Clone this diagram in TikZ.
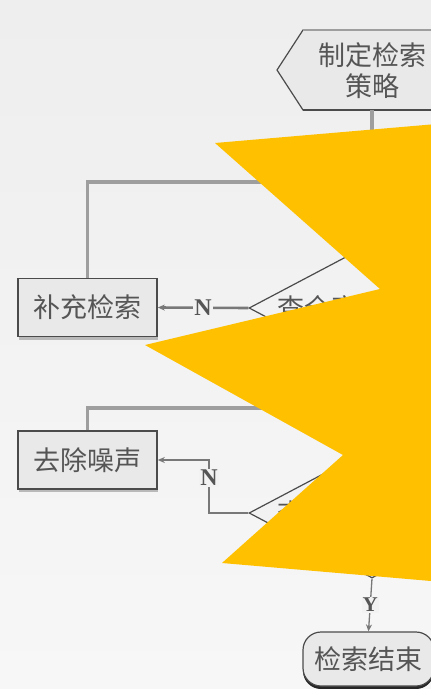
\documentclass[tikz,border=0pt]{standalone}
\usepackage{fontspec}
\setmainfont{Liberation Serif}
\newfontfamily\cjk{Noto Sans CJK SC}
\usetikzlibrary{shapes.geometric,arrows.meta,shadows}
\definecolor{bgtop}{RGB}{238,238,238}
\definecolor{bgbot}{RGB}{247,247,247}
\definecolor{bg}{RGB}{242,242,242}
\definecolor{gold}{RGB}{255,192,0}
\definecolor{linegray}{RGB}{120,120,120}
\definecolor{loopgray}{RGB}{158,158,158}
\definecolor{boxfill}{RGB}{233,233,233}
\definecolor{boxedge}{RGB}{75,75,75}
\definecolor{txt}{RGB}{85,85,85}
\begin{document}
\begin{tikzpicture}[x=1pt,y=-1pt,
  cjktext/.style={font=\cjk\fontsize{27pt}{31pt}\selectfont, text=txt},
  procbox/.style={cjktext, draw=boxedge, line width=1.6pt, fill=boxfill,
    minimum width=139pt, minimum height=58pt, inner sep=0pt,
    drop shadow={shadow xshift=1pt, shadow yshift=-3pt, opacity=1, fill=gray!55}},
  decision/.style={cjktext, shape=diamond, aspect=1.88, draw=boxedge, line width=1.2pt,
    fill=bg, minimum width=246pt, minimum height=130pt, inner sep=0pt},
  endbox/.style={cjktext, draw=boxedge, line width=1.2pt, fill=boxfill,
    rounded corners=18pt, minimum width=131pt, minimum height=54pt, inner sep=0pt,
    drop shadow={shadow xshift=0pt, shadow yshift=-3pt, opacity=1, fill=black!85}},
  flow/.style={draw=linegray, line width=2.6pt},
  loopflow/.style={draw=loopgray, line width=3.4pt, -{Stealth[length=8pt,width=7pt]}},
  flowarrow/.style={flow, -{Stealth[length=7pt,width=6pt]}},
  thinarrow/.style={draw=linegray, line width=1.3pt, -{Stealth[length=7pt,width=6pt]}},
  yn/.style={font=\bfseries\fontsize{24pt}{24pt}\selectfont, text=txt, fill=bg, inner sep=1pt}
]
\clip (0,0) rectangle (431,689);
\useasboundingbox (0,0) rectangle (431,689);
\shade[top color=bgtop, bottom color=bgbot] (0,0) rectangle (431,689);

% start hexagon
\draw[draw=boxedge, line width=1.2pt, fill=boxfill]
  (277,70) -- (303,30) -- (441,30) -- (467,70) -- (441,110) -- (303,110) -- cycle;
\draw[loopgray, line width=2.6pt] (303,30) -- (441,30);
\draw[boxedge, line width=2.6pt] (303,110) -- (441,110);
\node[cjktext, align=center] (start) at (372,71) {制定检索\\策略};
\coordinate (sb) at (372,110);

% decisions
\node[decision] (d1) at (372,308) {查全率是否满意};
\node[decision] (d2) at (372,513) {查准率是否满意};

% process boxes
\node[procbox] (b1) at (87.5,307.5) {补充检索};
\node[procbox] (b2) at (87.5,460) {去除噪声};

% end
\node[endbox] (e) at (368.5,659) {检索结束};

% connectors
\draw[loopflow, -] (sb) -- (d1.north);
\draw[flow] (d1.south) -- (d2.north);
\draw[flowarrow] (d1.west) -- node[yn]{N} (b1.east);
\coordinate (j1) at (372,182);
\draw[loopflow] (b1.north) |- (j1);
\coordinate (j2) at (372,408);
\draw[loopflow] (b2.north) |- (j2);
\coordinate (k2) at (209,513);
\draw[flowarrow] (d2.west) -- (k2) |- node[pos=0.33, yn]{N} (b2.east);
\draw[thinarrow] (d2.south) -- node[yn, font=\bfseries\fontsize{21pt}{21pt}\selectfont]{Y} (e.north);

% yellow burst
\fill[gold] (215,143) -- (460,122) -- (460,583.5) -- (222,563) -- (343,455)
  -- (145,345) -- (380,289) -- cycle;
\end{tikzpicture}
\end{document}
